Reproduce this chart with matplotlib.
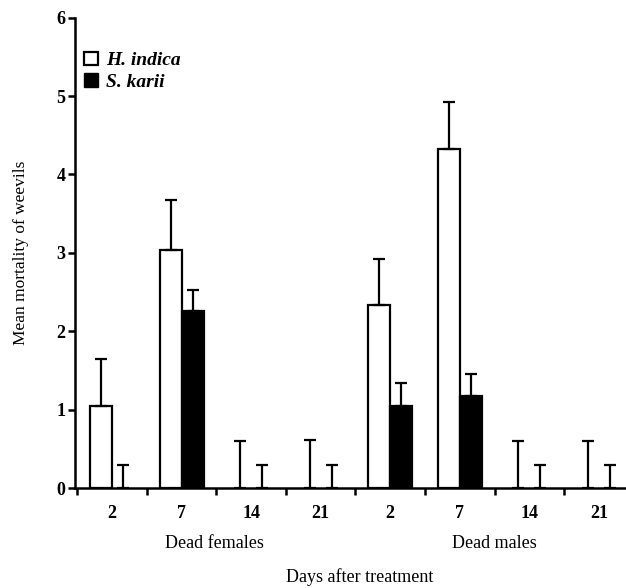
import numpy as np
import matplotlib.pyplot as plt
from matplotlib.patches import Patch

plt.rcParams['font.family'] = ['Liberation Serif', 'DejaVu Serif']

days = ["2", "7", "14", "21", "2", "7", "14", "21"]
groups = ["Dead females", "Dead males"]
h_indica = [1.05, 3.03, 0, 0, 2.33, 4.33, 0, 0]
h_indica_err = [0.60, 0.64, 0.60, 0.61, 0.59, 0.59, 0.60, 0.60]
s_karii = [0, 2.26, 0, 0, 1.05, 1.18, 0, 0]
s_karii_err = [0.29, 0.26, 0.29, 0.29, 0.29, 0.27, 0.29, 0.29]

fig = plt.figure(figsize=(6.26, 5.88), dpi=100)
ax = fig.add_axes([0.12, 0.17, 0.88, 0.80])

x = np.arange(len(days)) + 0.5
w = 0.316
lw = 1.6

# no outline for bars with zero height (they would only thicken the axis line)
lw_h = [lw if v > 0 else 0 for v in h_indica]
lw_s = [lw if v > 0 else 0 for v in s_karii]

ax.bar(x - w / 2, h_indica, w, color="white", edgecolor="black", linewidth=lw_h,
       yerr=[np.zeros(8), h_indica_err],
       error_kw=dict(ecolor="black", elinewidth=lw, capsize=4, capthick=lw), zorder=2)
ax.bar(x + w / 2, s_karii, w, color="black", edgecolor="black", linewidth=lw_s,
       yerr=[np.zeros(8), s_karii_err],
       error_kw=dict(ecolor="black", elinewidth=lw, capsize=4, capthick=lw), zorder=2)

ax.set_xlim(-0.03, 7.89)
ax.set_ylim(0, 6)
ax.spines['top'].set_visible(False)
ax.spines['right'].set_visible(False)
ax.spines['left'].set_linewidth(1.8)
ax.spines['bottom'].set_linewidth(1.8)
ax.spines['bottom'].set_zorder(3)

ax.set_xticks(np.arange(8))
ax.set_xticklabels([])
ax.set_xticks(x, minor=True)
ax.set_xticklabels(days, minor=True, fontsize=13, fontweight="bold")
ax.tick_params(axis="x", which="major", length=5, width=1.8, direction="out")
ax.tick_params(axis="x", which="minor", length=0, pad=12)

ax.set_yticks(range(7))
ax.set_yticklabels([str(i) for i in range(7)], fontsize=13, fontweight="bold")
ax.tick_params(axis="y", length=5, width=1.8, direction="out", pad=2)

ax.set_ylabel("Mean mortality of weevils", fontsize=12.5, labelpad=20)

ax.text(1.98, -0.117, groups[0], transform=ax.get_xaxis_transform(), ha="center", va="center",
        fontsize=13)
ax.text(6.0, -0.117, groups[1], transform=ax.get_xaxis_transform(), ha="center", va="center",
        fontsize=13)
fig.text(0.575, 0.018, "Days after treatment", ha="center", va="center", fontsize=13)

handles = [Patch(facecolor="white", edgecolor="black", linewidth=1.6, label="H. indica"),
           Patch(facecolor="black", edgecolor="black", label="S. karii")]
ax.legend(handles=handles, loc="upper left", bbox_to_anchor=(-0.015, 0.965), frameon=False,
          handlelength=0.7, handleheight=0.7, handletextpad=0.4, labelspacing=0.2,
          prop=dict(family="Liberation Serif", style="italic", weight="bold", size=14))

fig.savefig("out.png", dpi=100)
